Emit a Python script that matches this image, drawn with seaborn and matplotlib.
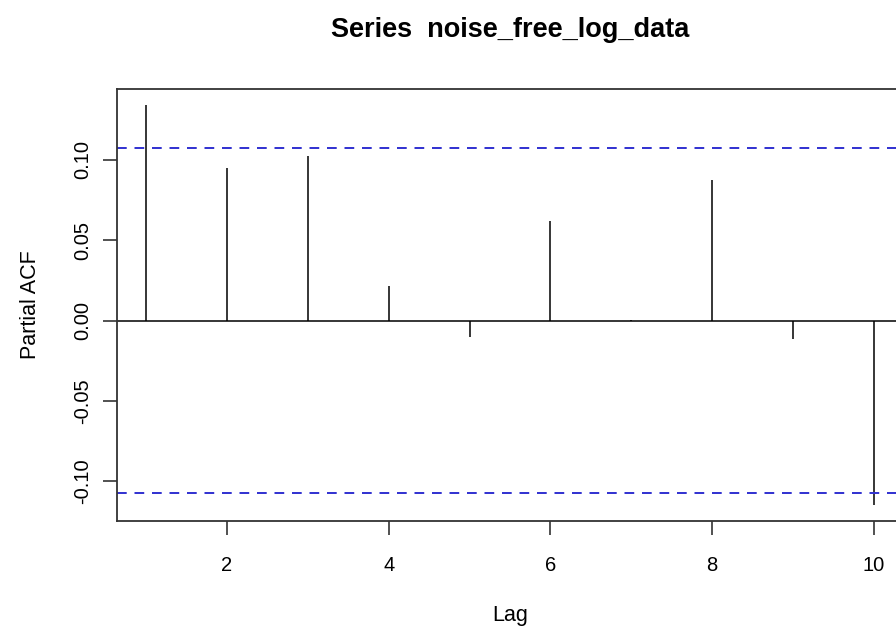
import matplotlib
matplotlib.use("Agg")
import matplotlib.pyplot as plt
import numpy as np
import pandas as pd
import seaborn as sns

# ---- values ----
lags = [1, 2, 3, 4, 5, 6, 7, 8, 9, 10]
pacf_values = [0.134, 0.0948, 0.102, 0.0213, -0.0104, 0.0617, 0.0005, 0.0876, -0.0112, -0.1147]
conf_limit = 0.107
x_ticks = [2, 4, 6, 8, 10]
y_ticks = [-0.10, -0.05, 0.00, 0.05, 0.10]

df = pd.DataFrame({"lag": lags, "pacf": pacf_values})

sns.set_theme(style="ticks")
plt.rcParams["font.family"] = ["Liberation Sans", "DejaVu Sans"]
plt.rcParams["text.color"] = "black"
plt.rcParams["axes.labelcolor"] = "black"

fig = plt.figure(figsize=(8.96, 6.35), dpi=100)
# right edge deliberately just past the figure, like the cropped original
ax = fig.add_axes([117 / 896, 1 - 521 / 635, (903 - 117) / 896, (521 - 89) / 635])

ax.vlines(df["lag"], 0, df["pacf"], color="black", linewidth=1.1)
ax.axhline(0, color="black", linewidth=1.1)
for c in (conf_limit, -conf_limit):
    ax.axhline(c, color="#3030d0", linewidth=1.4, linestyle=(0, (5, 4)))

# R style 4% padding on both axes
span = max(lags) - min(lags)
ax.set_xlim(min(lags) - 0.04 * span, max(lags) + 0.04 * span)
lo = min(min(pacf_values), -conf_limit)
hi = max(max(pacf_values), conf_limit)
ax.set_ylim(lo - 0.04 * (hi - lo), hi + 0.04 * (hi - lo))

ax.set_xticks(x_ticks)
ax.set_xticklabels([str(t) for t in x_ticks])
ax.set_yticks(y_ticks)
ax.set_yticklabels([f"{t:.2f}" for t in y_ticks], rotation=90, va="center")

for s in ax.spines.values():
    s.set_color("#333333")
    s.set_linewidth(1.3)
ax.tick_params(axis="both", direction="out", length=10, width=1.2, color="#333333",
               labelsize=14.5, labelcolor="black")
ax.tick_params(axis="x", pad=15)
ax.tick_params(axis="y", pad=8)

ax.set_xlabel("Lag", fontsize=15.5, labelpad=22)
ax.set_ylabel("Partial ACF", fontsize=15.5, labelpad=23)
fig.text(510 / 896, 1 - 37 / 635, "Series  noise_free_log_data", ha="center", va="baseline",
         fontsize=19.5, fontweight="bold")

fig.savefig("out.png", dpi=100)
